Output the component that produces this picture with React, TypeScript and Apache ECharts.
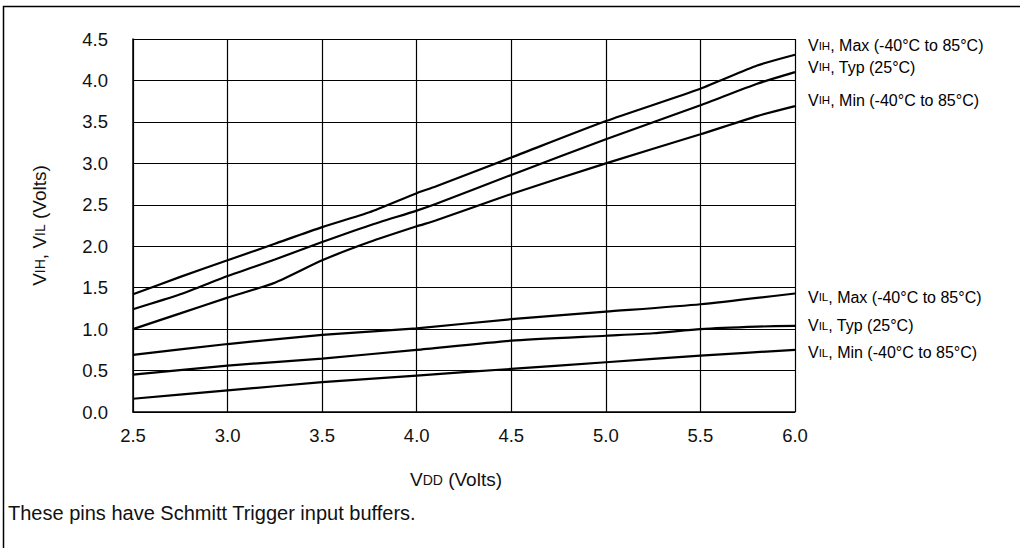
import React, { useEffect, useRef } from "react";
import * as echarts from "echarts";

// VDD sample points (Volts)
const vddVih = [2.5, 2.75, 3.0, 3.25, 3.5, 3.75, 4.0, 4.1, 4.5, 5.0, 5.5, 5.8, 6.0];
const vihMax = [1.42, 1.63, 1.83, 2.03, 2.23, 2.41, 2.64, 2.72, 3.07, 3.51, 3.9, 4.18, 4.31];
const vihTyp = [1.24, 1.42, 1.64, 1.84, 2.05, 2.25, 2.43, 2.51, 2.86, 3.29, 3.7, 3.96, 4.1];
const vihMin = [1.0, 1.19, 1.38, 1.56, 1.83, 2.05, 2.24, 2.31, 2.63, 3.0, 3.35, 3.57, 3.69];

const vddVil = [2.5, 3.0, 3.5, 4.0, 4.5, 5.0, 5.5, 6.0];
const vilMax = [0.69, 0.82, 0.93, 1.01, 1.12, 1.21, 1.3, 1.43];
const vilMin = [0.16, 0.26, 0.36, 0.44, 0.52, 0.6, 0.68, 0.75];
const vddVilTyp = [2.5, 3.0, 3.5, 4.0, 4.5, 5.0, 5.25, 5.5, 5.8, 6.0];
const vilTyp = [0.45, 0.56, 0.645, 0.75, 0.86, 0.92, 0.95, 1.0, 1.03, 1.04];

const seriesSub = ["IH", "IH", "IH", "IL", "IL", "IL"];
const seriesText = [
  ", Max (-40°C to 85°C)",
  ", Typ (25°C)",
  ", Min (-40°C to 85°C)",
  ", Max (-40°C to 85°C)",
  ", Typ (25°C)",
  ", Min (-40°C to 85°C)",
];
const yTicks = [0, 0.5, 1, 1.5, 2, 2.5, 3, 3.5, 4, 4.5];
const footnote = "These pins have Schmitt Trigger input buffers.";

const FONT = "'Liberation Sans', Arial, sans-serif";

function pairs(xs: number[], ys: number[]) {
  return xs.map((x, i) => [x, ys[i]]);
}

export default function App() {
  const ref = useRef<HTMLDivElement>(null);
  useEffect(() => {
    if (!ref.current) return;
    const chart = echarts.init(ref.current, null, { renderer: "svg" });
    const seriesData = [
      pairs(vddVih, vihMax),
      pairs(vddVih, vihTyp),
      pairs(vddVih, vihMin),
      pairs(vddVil, vilMax),
      pairs(vddVilTyp, vilTyp),
      pairs(vddVil, vilMin),
    ];
    const dy = [-9, -5, -6, 4, 0, 3];
    const rich = {
      v: { fontSize: 16, color: "#000", fontFamily: FONT },
      s: { fontSize: 11.5, color: "#000", fontFamily: FONT },
    };
    const nameRich = {
      v: { fontSize: 19, color: "#111", fontFamily: FONT },
      s: { fontSize: 14, color: "#111", fontFamily: FONT },
    };
    chart.setOption({
      animation: false,
      backgroundColor: "#fff",
      grid: { left: 133, top: 39, right: 225, bottom: 136, containLabel: false },
      xAxis: {
        type: "value",
        min: 2.5,
        max: 6.0,
        interval: 0.5,
        axisLine: { show: true, lineStyle: { color: "#000", width: 1.5 } },
        axisTick: { show: false },
        splitLine: { show: true, lineStyle: { color: "#000", width: 1.2 } },
        axisLabel: {
          color: "#111",
          fontSize: 18.5,
          fontFamily: FONT,
          margin: 14,
          formatter: (v: number) => v.toFixed(1),
        },
        name: "{v|V}{s|DD}{v| (Volts)}",
        nameLocation: "middle",
        nameGap: 58,
        nameTextStyle: { rich: nameRich, padding: [0, 16, 0, 0] },
      },
      yAxis: {
        type: "value",
        min: 0,
        max: 4.5,
        interval: 0.5,
        axisLine: { show: true, lineStyle: { color: "#000", width: 1.5 } },
        axisTick: { show: false },
        splitLine: { show: true, lineStyle: { color: "#000", width: 1.2 } },
        axisLabel: {
          color: "#111",
          fontSize: 18.5,
          fontFamily: FONT,
          margin: 25,
          formatter: (v: number) => (yTicks.includes(v) ? v.toFixed(1) : ""),
        },
        name: "{v|V}{s|IH}{v|, V}{s|IL}{v| (Volts)}",
        nameLocation: "middle",
        nameRotate: 90,
        nameGap: 84,
        nameTextStyle: { rich: nameRich },
      },
      series: seriesData.map((d, i) => ({
        type: "line",
        data: d,
        showSymbol: false,
        symbol: "none",
        smooth: 0.2,
        lineStyle: { color: "#000", width: 2.2 },
        endLabel: {
          show: true,
          distance: 0,
          offset: [13, dy[i]],
          formatter: () => `{v|V}{s|${seriesSub[i]}}{v|${seriesText[i]}}`,
          rich,
        },
        z: 5,
      })),
      graphic: [
        {
          type: "rect",
          shape: { x: 3.5, y: 6.5, width: 1040, height: 600 },
          style: { fill: "none", stroke: "#000", lineWidth: 1.5 },
          silent: true,
        },
        {
          type: "text",
          left: 8,
          top: 503,
          style: { text: footnote, fill: "#111", font: `20px ${FONT}` },
        },
      ],
    });
    return () => chart.dispose();
  }, []);
  return (
    <div
      ref={ref}
      style={{ position: "fixed", left: 0, top: 0, width: 1020, height: 548, background: "#fff" }}
    />
  );
}
